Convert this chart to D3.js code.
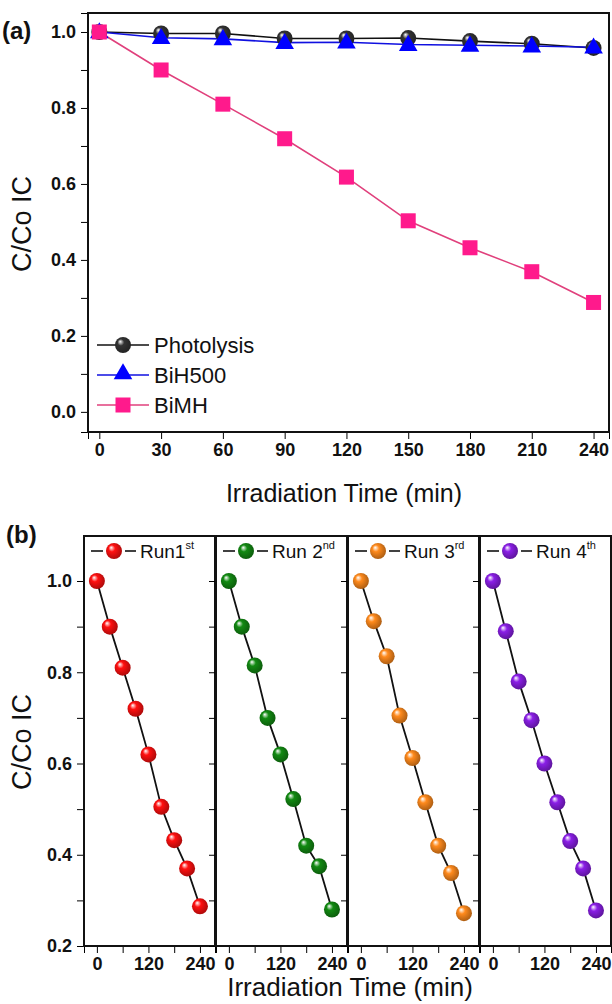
<!DOCTYPE html>
<html>
<head>
<meta charset="utf-8">
<script src="https://cdn.jsdelivr.net/npm/d3@7"></script>
<style>
  body { margin: 0; background: #fff; }
  text { font-family: "Liberation Sans", Arial, sans-serif; }
  .tick text { font-weight: bold; font-size: 18px; fill: #111; }
</style>
</head>
<body>
<svg id="chart" width="612" height="1004"></svg>
<script>
// data
var times = [0, 30, 60, 90, 120, 150, 180, 210, 240];
var photolysis = [1.0, 0.996, 0.996, 0.983, 0.983, 0.984, 0.976, 0.969, 0.958];
var bih500 = [1.0, 0.985, 0.982, 0.972, 0.973, 0.967, 0.965, 0.963, 0.96];
var bimh = [1.0, 0.90, 0.81, 0.719, 0.618, 0.503, 0.432, 0.369, 0.288];

var run1 = [1.0, 0.90, 0.81, 0.72, 0.62, 0.505, 0.432, 0.37, 0.287];
var run2 = [1.0, 0.90, 0.815, 0.70, 0.62, 0.522, 0.42, 0.375, 0.28];
var run3 = [1.0, 0.912, 0.835, 0.705, 0.612, 0.515, 0.42, 0.36, 0.272];
var run4 = [1.0, 0.89, 0.78, 0.695, 0.60, 0.515, 0.43, 0.37, 0.278];

var yTicksA = [0.0, 0.2, 0.4, 0.6, 0.8, 1.0];
var xTicksA = [0, 30, 60, 90, 120, 150, 180, 210, 240];
var yTicksB = [0.2, 0.4, 0.6, 0.8, 1.0];
var xTicksB = [0, 120, 240];

var runNames = ["Run1", "Run 2", "Run 3", "Run 4"];
var runSup = ["st", "nd", "rd", "th"];
var runColors = ["#ff1010", "#128a12", "#ff8a1c", "#8a1ee6"];

var svg = d3.select("#chart");
var defs = svg.append("defs");

function ball(id, color) {
  var g = defs.append("radialGradient").attr("id", id)
      .attr("cx", "45%").attr("cy", "45%").attr("r", "60%")
      .attr("fx", "32%").attr("fy", "28%");
  g.append("stop").attr("offset", "0%").attr("stop-color", "#fff");
  g.append("stop").attr("offset", "35%").attr("stop-color", color);
  g.append("stop").attr("offset", "100%").attr("stop-color", d3.color(color).darker(1.2));
}
ball("gBlack", "#333");
runColors.forEach(function(c, i) { ball("gRun" + i, c); });

// ---------- panel (a) ----------
var xA = d3.scaleLinear().domain([-5.5, 247.5]).range([88, 609]);
var yA = d3.scaleLinear().domain([-0.053, 1.05]).range([432, 13]);

var gA = svg.append("g");

gA.append("g").attr("transform", "translate(0,432)")
  .call(d3.axisBottom(xA).tickValues(xTicksA).tickSize(7).tickPadding(4).tickFormat(d3.format("d")));
gA.append("g").attr("transform", "translate(88,0)")
  .call(d3.axisLeft(yA).tickValues(d3.range(0, 1.01, 0.1)).tickSize(7).tickPadding(5)
    .tickFormat(function(d) { return yTicksA.some(function(t) { return Math.abs(t - d) < 1e-6; }) ? d3.format(".1f")(d) : ""; }));

gA.append("rect").attr("x", 88).attr("y", 13).attr("width", 521).attr("height", 419)
  .attr("fill", "none").attr("stroke", "#111").attr("stroke-width", 2);

var lineA = d3.line().x(function(d, i) { return xA(times[i]); }).y(function(d) { return yA(d); });

gA.append("path").datum(photolysis).attr("d", lineA).attr("fill", "none").attr("stroke", "#111").attr("stroke-width", 1.6);
gA.append("path").datum(bih500).attr("d", lineA).attr("fill", "none").attr("stroke", "#1010e0").attr("stroke-width", 1.6);
gA.append("path").datum(bimh).attr("d", lineA).attr("fill", "none").attr("stroke", "#e0407c").attr("stroke-width", 1.6);

var tri = d3.symbol().type(d3.symbolTriangle).size(150);

gA.selectAll(".pb").data(photolysis).enter().append("circle")
  .attr("cx", function(d, i) { return xA(times[i]); }).attr("cy", function(d) { return yA(d); })
  .attr("r", 8).attr("fill", "url(#gBlack)");
gA.selectAll(".tb").data(bih500).enter().append("path")
  .attr("d", tri).attr("fill", "#0000ff")
  .attr("transform", function(d, i) { return "translate(" + xA(times[i]) + "," + (yA(d) + 1) + ")"; });
gA.selectAll(".sb").data(bimh).enter().append("rect")
  .attr("x", function(d, i) { return xA(times[i]) - 7.5; }).attr("y", function(d) { return yA(d) - 7.5; })
  .attr("width", 15).attr("height", 15).attr("fill", "#ff1a8c");

// legend (a)
var legA = [
  { name: "Photolysis", color: "#111", mark: "ball" },
  { name: "BiH500", color: "#1010e0", mark: "tri" },
  { name: "BiMH", color: "#e0407c", mark: "sq" }
];
legA.forEach(function(l, i) {
  var y = 345 + i * 30;
  gA.append("line").attr("x1", 97).attr("x2", 149).attr("y1", y).attr("y2", y)
    .attr("stroke", l.color).attr("stroke-width", 1.6);
  if (l.mark === "ball") gA.append("circle").attr("cx", 123).attr("cy", y).attr("r", 8).attr("fill", "url(#gBlack)");
  if (l.mark === "tri") gA.append("path").attr("d", tri).attr("fill", "#0000ff").attr("transform", "translate(123," + (y - 1) + ")");
  if (l.mark === "sq") gA.append("rect").attr("x", 115.5).attr("y", y - 7.5).attr("width", 15).attr("height", 15).attr("fill", "#ff1a8c");
  gA.append("text").attr("x", 154).attr("y", y + 8).attr("font-size", 22).attr("fill", "#111").text(l.name);
});

gA.append("text").attr("x", 344).attr("y", 502).attr("text-anchor", "middle").attr("font-size", 25).attr("fill", "#111")
  .text("Irradiation Time (min)");
gA.append("text").attr("transform", "translate(31,224) rotate(-90)").attr("text-anchor", "middle")
  .attr("font-size", 27).attr("fill", "#111").text("C/Co IC");
gA.append("text").attr("x", 2).attr("y", 39).attr("font-size", 24).attr("font-weight", "bold").attr("fill", "#111").text("(a)");

// ---------- panel (b) ----------
var yB = d3.scaleLinear().domain([0.2, 1.0]).range([946, 581]);
var topB = 536, botB = 946;
var lefts = [84, 216, 348, 480];
var panelW = 131;
var runs = [run1, run2, run3, run4];

var gB = svg.append("g");

runs.forEach(function(run, k) {
  var x0 = lefts[k];
  var xB = d3.scaleLinear().domain([-30, 275]).range([x0, x0 + panelW]);
  var g = gB.append("g");

  g.append("g").attr("transform", "translate(0," + botB + ")")
    .call(d3.axisBottom(xB).tickValues([0, 60, 120, 180, 240]).tickSize(7).tickPadding(4)
      .tickFormat(function(d) { return xTicksB.indexOf(d) >= 0 ? d : ""; }));
  g.append("g").attr("transform", "translate(" + x0 + ",0)")
    .call(d3.axisLeft(yB).tickValues(d3.range(0.2, 1.01, 0.1)).tickSize(7).tickPadding(5)
      .tickFormat(function(d) {
        if (k > 0) return "";
        return yTicksB.some(function(t) { return Math.abs(t - d) < 1e-6; }) ? d3.format(".1f")(d) : "";
      }));

  g.append("rect").attr("x", x0).attr("y", topB).attr("width", panelW).attr("height", botB - topB)
    .attr("fill", "none").attr("stroke", "#111").attr("stroke-width", 2);

  var lineB = d3.line().x(function(d, i) { return xB(times[i]); }).y(function(d) { return yB(d); });
  g.append("path").datum(run).attr("d", lineB).attr("fill", "none").attr("stroke", "#111").attr("stroke-width", 1.8);
  g.selectAll(".rb").data(run).enter().append("circle")
    .attr("cx", function(d, i) { return xB(times[i]); }).attr("cy", function(d) { return yB(d); })
    .attr("r", 8).attr("fill", "url(#gRun" + k + ")");

  // legend
  var ly = 551;
  g.append("line").attr("x1", x0 + 7).attr("x2", x0 + 19).attr("y1", ly).attr("y2", ly).attr("stroke", "#111").attr("stroke-width", 1.6);
  g.append("line").attr("x1", x0 + 41).attr("x2", x0 + 52).attr("y1", ly).attr("y2", ly).attr("stroke", "#111").attr("stroke-width", 1.6);
  g.append("circle").attr("cx", x0 + 30).attr("cy", ly).attr("r", 8).attr("fill", "url(#gRun" + k + ")");
  var t = g.append("text").attr("x", x0 + 56).attr("y", ly + 7).attr("font-size", 19).attr("fill", "#111");
  t.append("tspan").text(runNames[k]);
  t.append("tspan").attr("font-size", 11).attr("dy", -9).text(runSup[k]);
});

gB.append("text").attr("x", 350).attr("y", 996).attr("text-anchor", "middle").attr("font-size", 26).attr("fill", "#111")
  .text("Irradiation Time (min)");
gB.append("text").attr("transform", "translate(31,742) rotate(-90)").attr("text-anchor", "middle")
  .attr("font-size", 27).attr("fill", "#111").text("C/Co IC");
gB.append("text").attr("x", 6).attr("y", 543).attr("font-size", 24).attr("font-weight", "bold").attr("fill", "#111").text("(b)");
</script>
</body>
</html>
